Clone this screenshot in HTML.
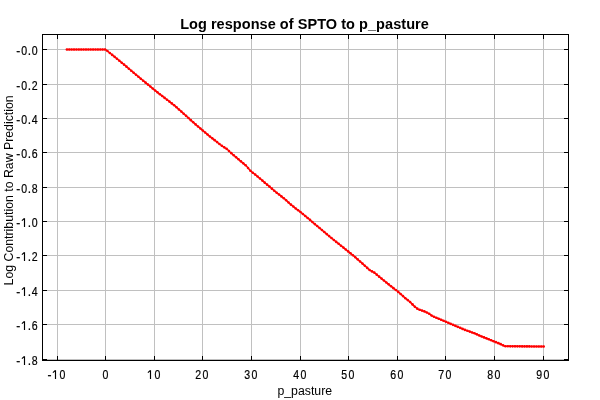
<!DOCTYPE html>
<html><head><meta charset="utf-8"><style>
html,body{margin:0;padding:0;background:#fff;width:600px;height:400px;overflow:hidden}
svg{display:block;will-change:transform}
text{font-family:"Liberation Sans",sans-serif;font-size:12px;fill:#000}
.d text{stroke:#000;stroke-width:0.2px}
</style></head><body>
<svg width="600" height="400" viewBox="0 0 600 400">
<rect width="600" height="400" fill="#fff"/>
<g shape-rendering="crispEdges"><rect x="57" y="34" width="1" height="326" fill="#c0c0c0"/><rect x="105" y="34" width="1" height="326" fill="#c0c0c0"/><rect x="154" y="34" width="1" height="326" fill="#c0c0c0"/><rect x="202" y="34" width="1" height="326" fill="#c0c0c0"/><rect x="251" y="34" width="1" height="326" fill="#c0c0c0"/><rect x="300" y="34" width="1" height="326" fill="#c0c0c0"/><rect x="348" y="34" width="1" height="326" fill="#c0c0c0"/><rect x="397" y="34" width="1" height="326" fill="#c0c0c0"/><rect x="445" y="34" width="1" height="326" fill="#c0c0c0"/><rect x="494" y="34" width="1" height="326" fill="#c0c0c0"/><rect x="543" y="34" width="1" height="326" fill="#c0c0c0"/><rect x="42" y="49" width="526" height="1" fill="#c0c0c0"/><rect x="42" y="84" width="526" height="1" fill="#c0c0c0"/><rect x="42" y="118" width="526" height="1" fill="#c0c0c0"/><rect x="42" y="152" width="526" height="1" fill="#c0c0c0"/><rect x="42" y="187" width="526" height="1" fill="#c0c0c0"/><rect x="42" y="221" width="526" height="1" fill="#c0c0c0"/><rect x="42" y="255" width="526" height="1" fill="#c0c0c0"/><rect x="42" y="290" width="526" height="1" fill="#c0c0c0"/><rect x="42" y="324" width="526" height="1" fill="#c0c0c0"/><rect x="42" y="359" width="526" height="1" fill="#c0c0c0"/></g>
<path d="M66.6,49.5 L105.5,49.5 L115,57.199999999999996 L125,65.4 L135,73.9 L145,82.2 L155,90.4 L165,98.2 L175,105.9 L185,114.9 L195,123.9 L205,132.4 L210,136.6 L215,140.4 L220,144.5 L225,147.9 L227.5,149.4 L230,152.0 L240,160.6 L246,165.6 L251,171.4 L256,175.20000000000002 L261,179.4 L265,182.9 L271,187.9 L275,191.4 L285,199.20000000000002 L290,203.9 L295,207.9 L300,211.6 L310,219.9 L313,222.6 L320,228.4 L330,236.9 L340,244.9 L350,252.9 L354,256.09999999999997 L360,261.4 L370,270.4 L374.5,272.7 L380,277.4 L390,285.4 L395,289.4 L397,290.9 L400,293.4 L405,297.9 L410,301.9 L415,306.9 L418,309.2 L425,311.59999999999997 L429,313.59999999999997 L432,315.9 L435,317.2 L440,319.2 L445,321.4 L455,325.7 L465,329.9 L475,333.5 L480,335.8 L490,339.8 L495,341.8 L500,343.8 L505,346.3 L544.5,346.5" fill="none" stroke="#ff0000" stroke-width="1.5" stroke-linejoin="round"/><g fill="#ff0000"><circle cx="66.90" cy="49.50" r="1.3"/><circle cx="69.28" cy="49.50" r="1.3"/><circle cx="71.67" cy="49.50" r="1.3"/><circle cx="74.05" cy="49.50" r="1.3"/><circle cx="76.43" cy="49.50" r="1.3"/><circle cx="78.82" cy="49.50" r="1.3"/><circle cx="81.20" cy="49.50" r="1.3"/><circle cx="83.58" cy="49.50" r="1.3"/><circle cx="85.97" cy="49.50" r="1.3"/><circle cx="88.35" cy="49.50" r="1.3"/><circle cx="90.74" cy="49.50" r="1.3"/><circle cx="93.12" cy="49.50" r="1.3"/><circle cx="95.50" cy="49.50" r="1.3"/><circle cx="97.89" cy="49.50" r="1.3"/><circle cx="100.27" cy="49.50" r="1.3"/><circle cx="102.65" cy="49.50" r="1.3"/><circle cx="105.04" cy="49.50" r="1.3"/><circle cx="107.42" cy="51.06" r="1.3"/><circle cx="109.80" cy="52.99" r="1.3"/><circle cx="112.19" cy="54.92" r="1.3"/><circle cx="114.57" cy="56.85" r="1.3"/><circle cx="116.95" cy="58.80" r="1.3"/><circle cx="119.34" cy="60.76" r="1.3"/><circle cx="121.72" cy="62.71" r="1.3"/><circle cx="124.10" cy="64.67" r="1.3"/><circle cx="126.49" cy="66.66" r="1.3"/><circle cx="128.87" cy="68.69" r="1.3"/><circle cx="131.25" cy="70.72" r="1.3"/><circle cx="133.64" cy="72.74" r="1.3"/><circle cx="136.02" cy="74.75" r="1.3"/><circle cx="138.41" cy="76.73" r="1.3"/><circle cx="140.79" cy="78.70" r="1.3"/><circle cx="143.17" cy="80.68" r="1.3"/><circle cx="145.56" cy="82.66" r="1.3"/><circle cx="147.94" cy="84.61" r="1.3"/><circle cx="150.32" cy="86.56" r="1.3"/><circle cx="152.71" cy="88.52" r="1.3"/><circle cx="155.09" cy="90.47" r="1.3"/><circle cx="157.47" cy="92.33" r="1.3"/><circle cx="159.86" cy="94.19" r="1.3"/><circle cx="162.24" cy="96.05" r="1.3"/><circle cx="164.62" cy="97.91" r="1.3"/><circle cx="167.01" cy="99.75" r="1.3"/><circle cx="169.39" cy="101.58" r="1.3"/><circle cx="171.77" cy="103.42" r="1.3"/><circle cx="174.16" cy="105.25" r="1.3"/><circle cx="176.54" cy="107.29" r="1.3"/><circle cx="178.92" cy="109.43" r="1.3"/><circle cx="181.31" cy="111.58" r="1.3"/><circle cx="183.69" cy="113.72" r="1.3"/><circle cx="186.08" cy="115.87" r="1.3"/><circle cx="188.46" cy="118.01" r="1.3"/><circle cx="190.84" cy="120.16" r="1.3"/><circle cx="193.23" cy="122.30" r="1.3"/><circle cx="195.61" cy="124.42" r="1.3"/><circle cx="197.99" cy="126.44" r="1.3"/><circle cx="200.38" cy="128.47" r="1.3"/><circle cx="202.76" cy="130.50" r="1.3"/><circle cx="205.14" cy="132.52" r="1.3"/><circle cx="207.53" cy="134.52" r="1.3"/><circle cx="209.91" cy="136.52" r="1.3"/><circle cx="212.29" cy="138.34" r="1.3"/><circle cx="214.68" cy="140.15" r="1.3"/><circle cx="217.06" cy="142.09" r="1.3"/><circle cx="219.44" cy="144.04" r="1.3"/><circle cx="221.83" cy="145.74" r="1.3"/><circle cx="224.21" cy="147.36" r="1.3"/><circle cx="226.59" cy="148.86" r="1.3"/><circle cx="228.98" cy="150.94" r="1.3"/><circle cx="231.36" cy="153.17" r="1.3"/><circle cx="233.75" cy="155.22" r="1.3"/><circle cx="236.13" cy="157.27" r="1.3"/><circle cx="238.51" cy="159.32" r="1.3"/><circle cx="240.90" cy="161.35" r="1.3"/><circle cx="243.28" cy="163.33" r="1.3"/><circle cx="245.66" cy="165.32" r="1.3"/><circle cx="248.05" cy="167.97" r="1.3"/><circle cx="250.43" cy="170.74" r="1.3"/><circle cx="252.81" cy="172.78" r="1.3"/><circle cx="255.20" cy="174.59" r="1.3"/><circle cx="257.58" cy="176.53" r="1.3"/><circle cx="259.96" cy="178.53" r="1.3"/><circle cx="262.35" cy="180.58" r="1.3"/><circle cx="264.73" cy="182.66" r="1.3"/><circle cx="267.11" cy="184.66" r="1.3"/><circle cx="269.50" cy="186.65" r="1.3"/><circle cx="271.88" cy="188.67" r="1.3"/><circle cx="274.26" cy="190.76" r="1.3"/><circle cx="276.65" cy="192.69" r="1.3"/><circle cx="279.03" cy="194.54" r="1.3"/><circle cx="281.42" cy="196.40" r="1.3"/><circle cx="283.80" cy="198.26" r="1.3"/><circle cx="286.18" cy="200.31" r="1.3"/><circle cx="288.57" cy="202.55" r="1.3"/><circle cx="290.95" cy="204.66" r="1.3"/><circle cx="293.33" cy="206.57" r="1.3"/><circle cx="295.72" cy="208.43" r="1.3"/><circle cx="298.10" cy="210.19" r="1.3"/><circle cx="300.48" cy="212.00" r="1.3"/><circle cx="302.87" cy="213.98" r="1.3"/><circle cx="305.25" cy="215.96" r="1.3"/><circle cx="307.63" cy="217.94" r="1.3"/><circle cx="310.02" cy="219.92" r="1.3"/><circle cx="312.40" cy="222.06" r="1.3"/><circle cx="314.78" cy="224.08" r="1.3"/><circle cx="317.17" cy="226.05" r="1.3"/><circle cx="319.55" cy="228.03" r="1.3"/><circle cx="321.93" cy="230.04" r="1.3"/><circle cx="324.32" cy="232.07" r="1.3"/><circle cx="326.70" cy="234.10" r="1.3"/><circle cx="329.09" cy="236.12" r="1.3"/><circle cx="331.47" cy="238.07" r="1.3"/><circle cx="333.85" cy="239.98" r="1.3"/><circle cx="336.24" cy="241.89" r="1.3"/><circle cx="338.62" cy="243.80" r="1.3"/><circle cx="341.00" cy="245.70" r="1.3"/><circle cx="343.39" cy="247.61" r="1.3"/><circle cx="345.77" cy="249.52" r="1.3"/><circle cx="348.15" cy="251.42" r="1.3"/><circle cx="350.54" cy="253.33" r="1.3"/><circle cx="352.92" cy="255.24" r="1.3"/><circle cx="355.30" cy="257.25" r="1.3"/><circle cx="357.69" cy="259.36" r="1.3"/><circle cx="360.07" cy="261.46" r="1.3"/><circle cx="362.45" cy="263.61" r="1.3"/><circle cx="364.84" cy="265.75" r="1.3"/><circle cx="367.22" cy="267.90" r="1.3"/><circle cx="369.60" cy="270.04" r="1.3"/><circle cx="371.99" cy="271.42" r="1.3"/><circle cx="374.37" cy="272.63" r="1.3"/><circle cx="376.75" cy="274.63" r="1.3"/><circle cx="379.14" cy="276.66" r="1.3"/><circle cx="381.52" cy="278.62" r="1.3"/><circle cx="383.91" cy="280.52" r="1.3"/><circle cx="386.29" cy="282.43" r="1.3"/><circle cx="388.67" cy="284.34" r="1.3"/><circle cx="391.06" cy="286.24" r="1.3"/><circle cx="393.44" cy="288.15" r="1.3"/><circle cx="395.82" cy="290.02" r="1.3"/><circle cx="398.21" cy="291.91" r="1.3"/><circle cx="400.59" cy="293.93" r="1.3"/><circle cx="402.97" cy="296.08" r="1.3"/><circle cx="405.36" cy="298.19" r="1.3"/><circle cx="407.74" cy="300.09" r="1.3"/><circle cx="410.12" cy="302.02" r="1.3"/><circle cx="412.51" cy="304.41" r="1.3"/><circle cx="414.89" cy="306.79" r="1.3"/><circle cx="417.27" cy="308.64" r="1.3"/><circle cx="419.66" cy="309.77" r="1.3"/><circle cx="422.04" cy="310.59" r="1.3"/><circle cx="424.43" cy="311.40" r="1.3"/><circle cx="426.81" cy="312.50" r="1.3"/><circle cx="429.19" cy="313.75" r="1.3"/><circle cx="431.58" cy="315.57" r="1.3"/><circle cx="433.96" cy="316.75" r="1.3"/><circle cx="436.34" cy="317.74" r="1.3"/><circle cx="438.73" cy="318.69" r="1.3"/><circle cx="441.11" cy="319.69" r="1.3"/><circle cx="443.49" cy="320.74" r="1.3"/><circle cx="445.88" cy="321.78" r="1.3"/><circle cx="448.26" cy="322.80" r="1.3"/><circle cx="450.64" cy="323.83" r="1.3"/><circle cx="453.03" cy="324.85" r="1.3"/><circle cx="455.41" cy="325.87" r="1.3"/><circle cx="457.79" cy="326.87" r="1.3"/><circle cx="460.18" cy="327.87" r="1.3"/><circle cx="462.56" cy="328.88" r="1.3"/><circle cx="464.94" cy="329.88" r="1.3"/><circle cx="467.33" cy="330.74" r="1.3"/><circle cx="469.71" cy="331.60" r="1.3"/><circle cx="472.10" cy="332.45" r="1.3"/><circle cx="474.48" cy="333.31" r="1.3"/><circle cx="476.86" cy="334.36" r="1.3"/><circle cx="479.25" cy="335.45" r="1.3"/><circle cx="481.63" cy="336.45" r="1.3"/><circle cx="484.01" cy="337.41" r="1.3"/><circle cx="486.40" cy="338.36" r="1.3"/><circle cx="488.78" cy="339.31" r="1.3"/><circle cx="491.16" cy="340.27" r="1.3"/><circle cx="493.55" cy="341.22" r="1.3"/><circle cx="495.93" cy="342.17" r="1.3"/><circle cx="498.31" cy="343.13" r="1.3"/><circle cx="500.70" cy="344.15" r="1.3"/><circle cx="503.08" cy="345.34" r="1.3"/><circle cx="505.46" cy="346.30" r="1.3"/><circle cx="507.85" cy="346.31" r="1.3"/><circle cx="510.23" cy="346.33" r="1.3"/><circle cx="512.61" cy="346.34" r="1.3"/><circle cx="515.00" cy="346.35" r="1.3"/><circle cx="517.38" cy="346.36" r="1.3"/><circle cx="519.76" cy="346.37" r="1.3"/><circle cx="522.15" cy="346.39" r="1.3"/><circle cx="524.53" cy="346.40" r="1.3"/><circle cx="526.92" cy="346.41" r="1.3"/><circle cx="529.30" cy="346.42" r="1.3"/><circle cx="531.68" cy="346.44" r="1.3"/><circle cx="534.07" cy="346.45" r="1.3"/><circle cx="536.45" cy="346.46" r="1.3"/><circle cx="538.83" cy="346.47" r="1.3"/><circle cx="541.22" cy="346.48" r="1.3"/><circle cx="543.60" cy="346.50" r="1.3"/></g>
<g shape-rendering="crispEdges" fill="#000"><rect x="57" y="35" width="1" height="4"/><rect x="57" y="356" width="1" height="4"/><rect x="105" y="35" width="1" height="4"/><rect x="105" y="356" width="1" height="4"/><rect x="154" y="35" width="1" height="4"/><rect x="154" y="356" width="1" height="4"/><rect x="202" y="35" width="1" height="4"/><rect x="202" y="356" width="1" height="4"/><rect x="251" y="35" width="1" height="4"/><rect x="251" y="356" width="1" height="4"/><rect x="300" y="35" width="1" height="4"/><rect x="300" y="356" width="1" height="4"/><rect x="348" y="35" width="1" height="4"/><rect x="348" y="356" width="1" height="4"/><rect x="397" y="35" width="1" height="4"/><rect x="397" y="356" width="1" height="4"/><rect x="445" y="35" width="1" height="4"/><rect x="445" y="356" width="1" height="4"/><rect x="494" y="35" width="1" height="4"/><rect x="494" y="356" width="1" height="4"/><rect x="543" y="35" width="1" height="4"/><rect x="543" y="356" width="1" height="4"/><rect x="43" y="49" width="4" height="1"/><rect x="564" y="49" width="4" height="1"/><rect x="43" y="84" width="4" height="1"/><rect x="564" y="84" width="4" height="1"/><rect x="43" y="118" width="4" height="1"/><rect x="564" y="118" width="4" height="1"/><rect x="43" y="152" width="4" height="1"/><rect x="564" y="152" width="4" height="1"/><rect x="43" y="187" width="4" height="1"/><rect x="564" y="187" width="4" height="1"/><rect x="43" y="221" width="4" height="1"/><rect x="564" y="221" width="4" height="1"/><rect x="43" y="255" width="4" height="1"/><rect x="564" y="255" width="4" height="1"/><rect x="43" y="290" width="4" height="1"/><rect x="564" y="290" width="4" height="1"/><rect x="43" y="324" width="4" height="1"/><rect x="564" y="324" width="4" height="1"/><rect x="43" y="359" width="4" height="1"/><rect x="564" y="359" width="4" height="1"/><rect x="42" y="34" width="527" height="1"/><rect x="42" y="360" width="527" height="1"/><rect x="42" y="34" width="1" height="327"/><rect x="568" y="34" width="1" height="327"/></g>
<text x="304.5" y="28.5" text-anchor="middle" style="font-weight:bold;font-size:14.5px;letter-spacing:0.05px">Log response of SPTO to p_pasture</text>
<g class="d"><text x="18.30" y="55" text-anchor="middle">-</text><text transform="translate(24.20,55) scale(0.88,1)" text-anchor="middle">0</text><text x="29.35" y="55" text-anchor="middle">.</text><text transform="translate(34.60,55) scale(0.88,1)" text-anchor="middle">0</text><text x="18.30" y="90" text-anchor="middle">-</text><text transform="translate(24.20,90) scale(0.88,1)" text-anchor="middle">0</text><text x="29.35" y="90" text-anchor="middle">.</text><text transform="translate(34.60,90) scale(0.88,1)" text-anchor="middle">2</text><text x="18.30" y="124" text-anchor="middle">-</text><text transform="translate(24.20,124) scale(0.88,1)" text-anchor="middle">0</text><text x="29.35" y="124" text-anchor="middle">.</text><text transform="translate(34.60,124) scale(0.88,1)" text-anchor="middle">4</text><text x="18.30" y="158" text-anchor="middle">-</text><text transform="translate(24.20,158) scale(0.88,1)" text-anchor="middle">0</text><text x="29.35" y="158" text-anchor="middle">.</text><text transform="translate(34.60,158) scale(0.88,1)" text-anchor="middle">6</text><text x="18.30" y="193" text-anchor="middle">-</text><text transform="translate(24.20,193) scale(0.88,1)" text-anchor="middle">0</text><text x="29.35" y="193" text-anchor="middle">.</text><text transform="translate(34.60,193) scale(0.88,1)" text-anchor="middle">8</text><text x="18.30" y="227" text-anchor="middle">-</text><path d="M24.50,227.00V218.20M21.90,220.70L24.40,218.40" stroke="#000" stroke-width="1.15" fill="none"/><text x="29.35" y="227" text-anchor="middle">.</text><text transform="translate(34.60,227) scale(0.88,1)" text-anchor="middle">0</text><text x="18.30" y="261" text-anchor="middle">-</text><path d="M24.50,261.00V252.20M21.90,254.70L24.40,252.40" stroke="#000" stroke-width="1.15" fill="none"/><text x="29.35" y="261" text-anchor="middle">.</text><text transform="translate(34.60,261) scale(0.88,1)" text-anchor="middle">2</text><text x="18.30" y="296" text-anchor="middle">-</text><path d="M24.50,296.00V287.20M21.90,289.70L24.40,287.40" stroke="#000" stroke-width="1.15" fill="none"/><text x="29.35" y="296" text-anchor="middle">.</text><text transform="translate(34.60,296) scale(0.88,1)" text-anchor="middle">4</text><text x="18.30" y="330" text-anchor="middle">-</text><path d="M24.50,330.00V321.20M21.90,323.70L24.40,321.40" stroke="#000" stroke-width="1.15" fill="none"/><text x="29.35" y="330" text-anchor="middle">.</text><text transform="translate(34.60,330) scale(0.88,1)" text-anchor="middle">6</text><text x="18.30" y="365" text-anchor="middle">-</text><path d="M24.50,365.00V356.20M21.90,358.70L24.40,356.40" stroke="#000" stroke-width="1.15" fill="none"/><text x="29.35" y="365" text-anchor="middle">.</text><text transform="translate(34.60,365) scale(0.88,1)" text-anchor="middle">8</text>
<text x="49.40" y="379" text-anchor="middle">-</text><path d="M55.50,379.00V370.20M52.90,372.70L55.40,370.40" stroke="#000" stroke-width="1.15" fill="none"/><text transform="translate(62.55,379) scale(0.88,1)" text-anchor="middle">0</text><text transform="translate(105.50,379) scale(0.88,1)" text-anchor="middle">0</text><path d="M150.50,379.00V370.20M147.90,372.70L150.40,370.40" stroke="#000" stroke-width="1.15" fill="none"/><text transform="translate(157.50,379) scale(0.88,1)" text-anchor="middle">0</text><text transform="translate(198.20,379) scale(0.88,1)" text-anchor="middle">2</text><text transform="translate(205.50,379) scale(0.88,1)" text-anchor="middle">0</text><text transform="translate(247.20,379) scale(0.88,1)" text-anchor="middle">3</text><text transform="translate(254.50,379) scale(0.88,1)" text-anchor="middle">0</text><text transform="translate(296.20,379) scale(0.88,1)" text-anchor="middle">4</text><text transform="translate(303.50,379) scale(0.88,1)" text-anchor="middle">0</text><text transform="translate(344.20,379) scale(0.88,1)" text-anchor="middle">5</text><text transform="translate(351.50,379) scale(0.88,1)" text-anchor="middle">0</text><text transform="translate(393.20,379) scale(0.88,1)" text-anchor="middle">6</text><text transform="translate(400.50,379) scale(0.88,1)" text-anchor="middle">0</text><text transform="translate(441.20,379) scale(0.88,1)" text-anchor="middle">7</text><text transform="translate(448.50,379) scale(0.88,1)" text-anchor="middle">0</text><text transform="translate(490.20,379) scale(0.88,1)" text-anchor="middle">8</text><text transform="translate(497.50,379) scale(0.88,1)" text-anchor="middle">0</text><text transform="translate(539.20,379) scale(0.88,1)" text-anchor="middle">9</text><text transform="translate(546.50,379) scale(0.88,1)" text-anchor="middle">0</text></g>
<text x="304.75" y="394.6" text-anchor="middle" style="font-size:12.3px">p_pasture</text>
<text transform="translate(12.5,190.4) rotate(-90)" text-anchor="middle" style="font-size:12.3px">Log Contribution to Raw Prediction</text>
</svg>
</body></html>
